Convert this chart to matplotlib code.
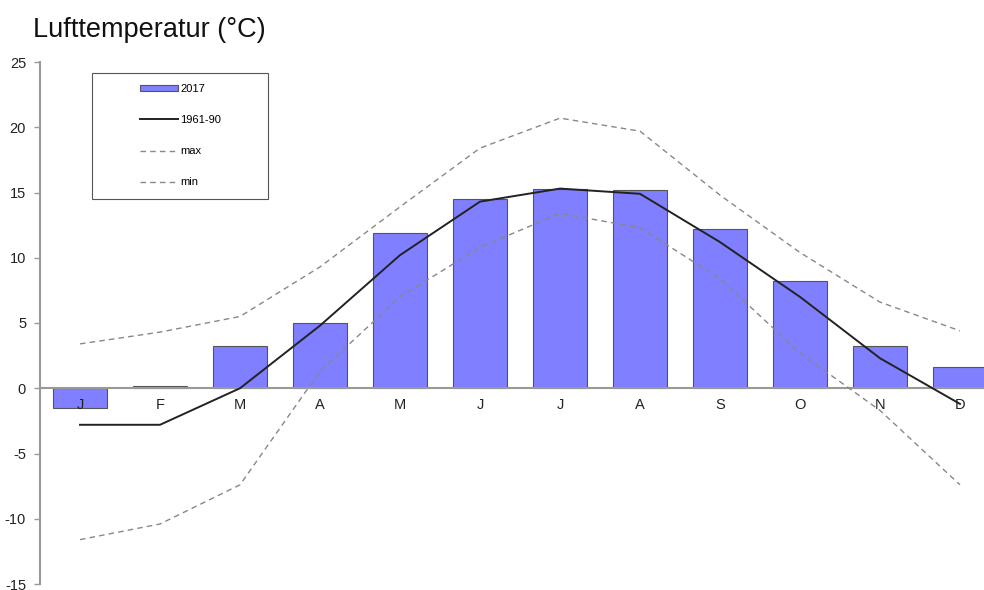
import numpy as np
import matplotlib
matplotlib.use('Agg')
import matplotlib.pyplot as plt
from matplotlib.patches import Rectangle

# monthly air temperature (degC)
months = ['J', 'F', 'M', 'A', 'M', 'J', 'J', 'A', 'S', 'O', 'N', 'D']
temp_2017 = [-1.5, 0.2, 3.2, 5.0, 11.9, 14.5, 15.3, 15.2, 12.2, 8.2, 3.2, 1.6]
normal_6190 = [-2.8, -2.8, 0.0, 4.8, 10.2, 14.3, 15.3, 14.9, 11.2, 7.0, 2.3, -1.2]
t_max = [3.4, 4.3, 5.5, 9.3, 13.9, 18.4, 20.7, 19.7, 14.8, 10.4, 6.6, 4.4]
t_min = [-11.6, -10.4, -7.4, 1.3, 7.0, 10.8, 13.4, 12.3, 8.4, 2.7, -1.7, -7.4]

plt.rcParams['font.family'] = ['Liberation Sans', 'DejaVu Sans']
plt.rcParams['axes.unicode_minus'] = False

fig = plt.figure(figsize=(9.84, 5.9), dpi=100)
ax = fig.add_axes([40 / 984, 1 - 584 / 590, 1 - 40 / 984, 522 / 590])
ax.set_axisbelow(False)

x = np.arange(len(months))
bars = ax.bar(x, temp_2017, width=0.68, color='#7f7fff', edgecolor='#555555',
              linewidth=0.8, label='2017', zorder=2)
l1, = ax.plot(x, normal_6190, color='#222222', linewidth=1.4, label='1961-90', zorder=3)
l2, = ax.plot(x, t_max, color='#888888', linewidth=1.0, linestyle=(0, (4, 3)),
              label='max', zorder=3)
l3, = ax.plot(x, t_min, color='#888888', linewidth=1.0, linestyle=(0, (4, 3)),
              label='min', zorder=3)

ax.set_xlim(-0.5, 11.3)
ax.set_ylim(-15, 25)
ax.set_yticks(np.arange(-15, 26, 5))
ax.set_xticks(x)
ax.set_xticklabels(months)

for s in ['top', 'right']:
    ax.spines[s].set_visible(False)
ax.spines['bottom'].set_position(('data', 0))
ax.spines['bottom'].set_color('#999999')
ax.spines['bottom'].set_linewidth(1.5)
ax.spines['left'].set_color('#999999')
ax.spines['left'].set_linewidth(1.5)
ax.tick_params(axis='x', length=0, pad=7, labelsize=10.5, colors='#222222')
ax.tick_params(axis='y', length=4, width=1, color='#999999', pad=6,
               labelsize=10.5, labelcolor='#222222')

# legend box
ax.add_patch(Rectangle((52 / 944, 0.7375), 176 / 944, 0.2415, transform=ax.transAxes,
                       facecolor='white', edgecolor='#555555', linewidth=0.8, zorder=4))
leg = ax.legend([bars, l1, l2, l3], ['2017', '1961-90', 'max', 'min'],
                loc='upper left', bbox_to_anchor=(100 / 944, 0.958), frameon=False,
                fontsize=8, handlelength=3.4, handleheight=0.5, labelspacing=1.9,
                handletextpad=0.25, borderpad=0, borderaxespad=0)
leg.set_zorder(5)

fig.text(33 / 984, 1 - 30 / 590, 'Lufttemperatur (°C)', fontsize=19.5, va='center',
         ha='left', color='#111111')

fig.savefig('out.png', dpi=100, facecolor='white')
